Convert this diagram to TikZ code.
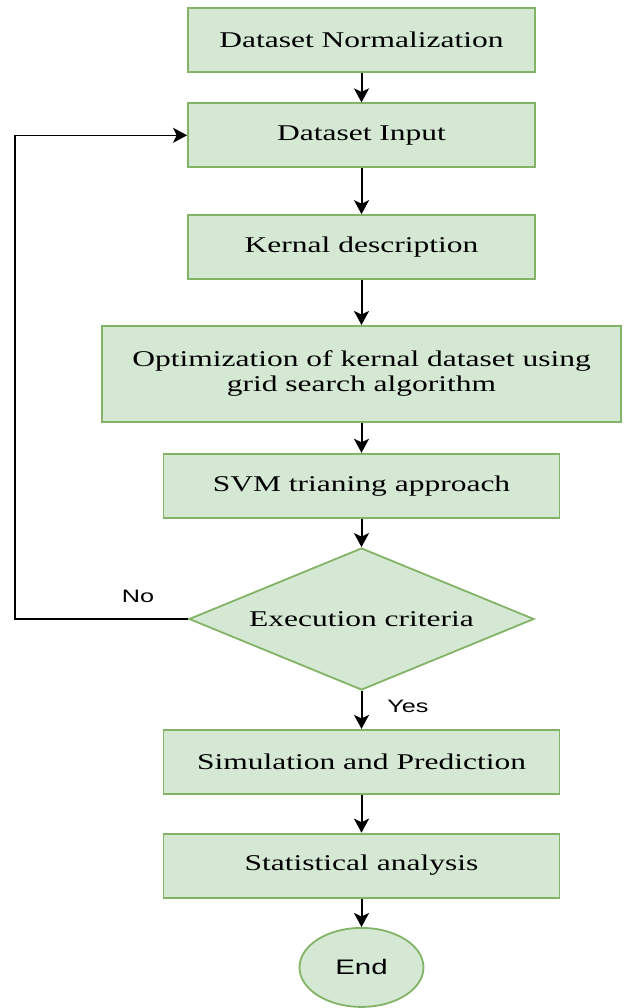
\documentclass[tikz,border=0pt]{standalone}
\usepackage{fontspec}
\setmainfont{Liberation Serif}[FakeStretch=1.4]
\newfontfamily\lblfont{Liberation Sans}[FakeStretch=1.4]
\usetikzlibrary{shapes.geometric,arrows.meta,positioning}
\definecolor{boxfill}{HTML}{D5E8D4}
\definecolor{boxline}{HTML}{82B366}
\tikzset{block/.style = {draw=boxline, fill=boxfill, line width=1.8pt, rectangle, minimum height = 64pt, minimum width = 347pt, align=center, font=\fontsize{22.5}{25}\selectfont},
         wide/.style = {block, minimum width = 396pt},
         decision/.style = {draw=boxline, fill=boxfill, line width=1.8pt, diamond, aspect=2.43, inner sep=0pt, minimum width=345pt, minimum height=142pt, font=\fontsize{22.5}{25}\selectfont},
         term/.style = {draw=boxline, fill=boxfill, line width=1.8pt, ellipse, minimum width=124pt, minimum height=79pt, font=\lblfont\fontsize{21}{24}\selectfont},
         lbl/.style = {font=\lblfont\fontsize{18}{20}\selectfont},
         output/.style = {coordinate},
         flow/.style = {-{Stealth[length=14pt,width=15pt,inset=3.5pt]}, line width=2pt},
}
\begin{document}
\begin{tikzpicture}[x=1pt, y=-1pt, node distance = 29.5pt]
  \useasboundingbox (0,0) rectangle (624,1008);

  \node[block] at (361.5,40) (norm) {Dataset Normalization};
  \node[block, below = of norm] (input) {Dataset Input};
  \node[block, below = 46pt of input] (kernel) {Kernal description};
  \node[block, below = 45pt of kernel, minimum width = 519pt, minimum height = 96pt] (optim) {Optimization of kernal dataset using\\grid search algorithm};
  \node[wide, below = 30pt of optim] (svm) {SVM trianing approach};
  \node[decision, below = 28.5pt of svm] (exec) {Execution criteria};
  \node[wide, below = 38pt of exec] (sim) {Simulation and Prediction};
  \node[wide, below = 38pt of sim] (stat) {Statistical analysis};
  \node[term, below = 28.5pt of stat] (end) {End};
  \node[output, left = 173pt of exec] (back) {};
  \node[lbl] at (138,596) (no) {No};
  \node[lbl] at (408,706) (yes) {Yes};

  \draw[flow] (norm) -- (input);
  \draw[flow] (input) -- (kernel);
  \draw[flow] (kernel) -- (optim);
  \draw[flow] (optim) -- (svm);
  \draw[flow] (svm) -- (exec);
  \draw[flow] (exec) -- (sim);
  \draw[flow] (sim) -- (stat);
  \draw[flow] (stat) -- (end);
  \draw[flow, line width=1.5pt] (exec) -- (back) |- (input);

\end{tikzpicture}
\end{document}
